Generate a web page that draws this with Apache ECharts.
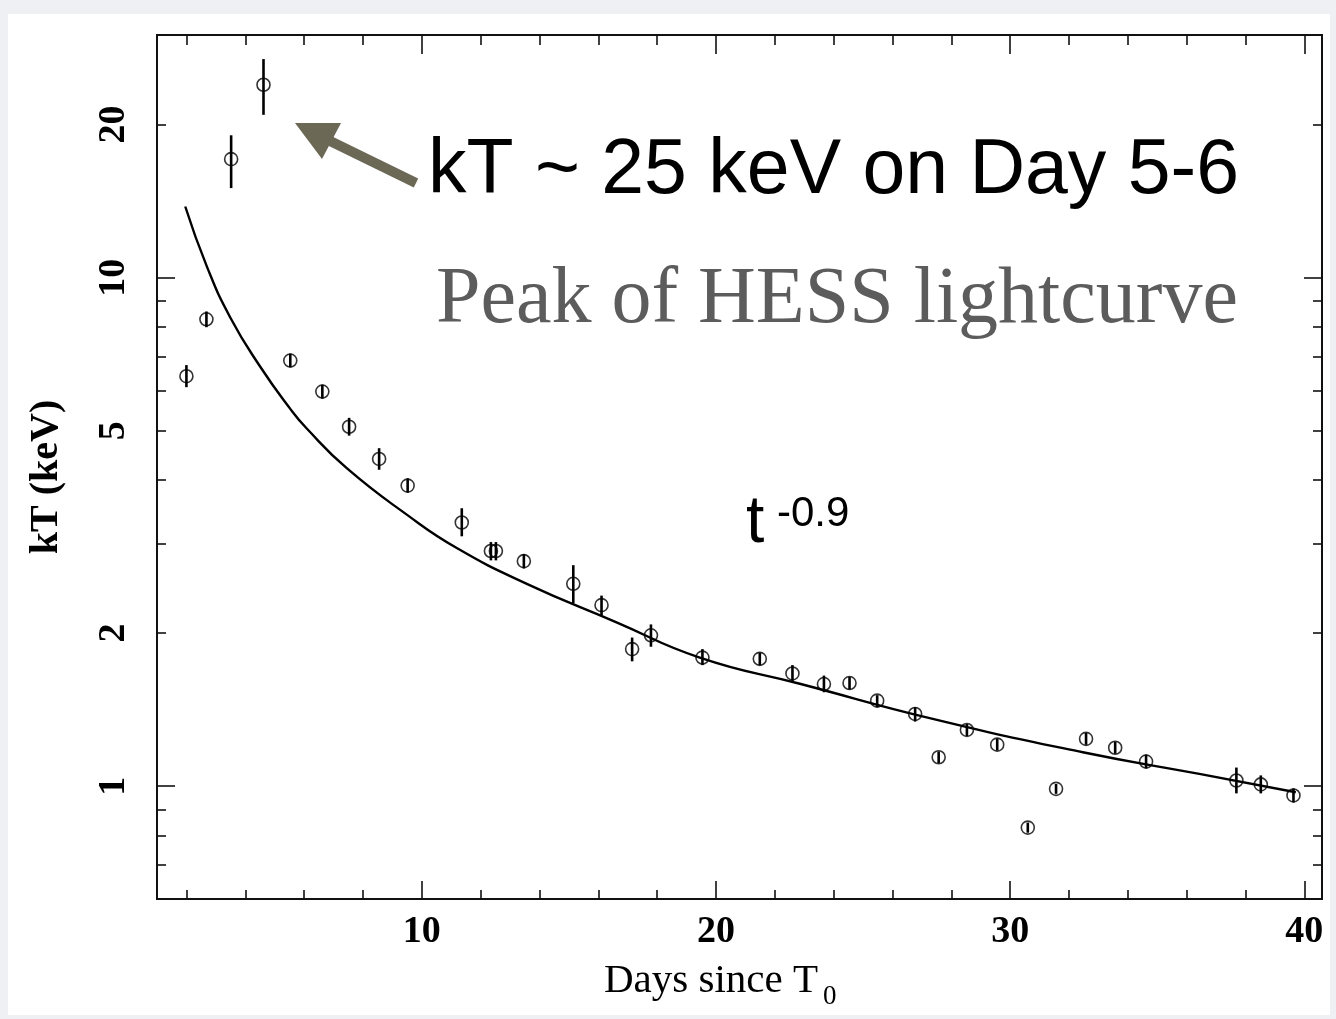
<!DOCTYPE html>
<html>
<head>
<meta charset="utf-8">
<script src="https://cdn.jsdelivr.net/npm/echarts@6/dist/echarts.min.js"></script>
<style>
  html, body { margin: 0; padding: 0; background: #eef0f3; }
  #chart { width: 1336px; height: 1019px; }
</style>
</head>
<body>
<div id="chart"></div>
<script>
// Measured temperatures (keV) with lower / upper error limits, by days since T0
const days  = [2.00, 2.68, 3.52, 4.62, 5.53, 6.62, 7.53, 8.55, 9.52, 11.36, 12.35, 12.52, 13.47, 15.15, 16.11, 17.15, 17.79, 19.54, 21.49, 22.60, 23.67, 24.54, 25.48, 26.77, 27.57, 28.53, 29.56, 30.60, 31.56, 32.58, 33.57, 34.62, 37.69, 38.52, 39.63];
const kT    = [6.40, 8.28, 17.1, 23.95, 6.87, 5.97, 5.09, 4.40, 3.90, 3.30, 2.90, 2.90, 2.77, 2.50, 2.27, 1.86, 1.98, 1.79, 1.78, 1.666, 1.588, 1.595, 1.473, 1.387, 1.14, 1.29, 1.207, 0.829, 0.988, 1.239, 1.19, 1.118, 1.026, 1.008, 0.959];
const kTlo  = [6.09, 7.99, 15.0, 20.9, 6.66, 5.78, 4.89, 4.19, 3.78, 3.10, 2.78, 2.78, 2.68, 2.29, 2.17, 1.76, 1.88, 1.73, 1.73, 1.61, 1.53, 1.55, 1.43, 1.34, 1.11, 1.255, 1.175, 0.810, 0.966, 1.206, 1.158, 1.083, 0.968, 0.968, 0.929];
const kThi  = [6.73, 8.58, 19.05, 26.9, 7.09, 6.16, 5.30, 4.62, 4.03, 3.52, 3.02, 3.02, 2.86, 2.72, 2.37, 1.96, 2.08, 1.86, 1.83, 1.73, 1.65, 1.64, 1.51, 1.43, 1.17, 1.325, 1.24, 0.848, 1.010, 1.273, 1.223, 1.154, 1.088, 1.050, 0.990];

// Power-law decay curve (t^-0.9) sampled along its drawn path
const curveDays = [1.96, 2.70, 3.49, 4.51, 5.53, 6.09, 7.45, 9.49, 11.19, 13.57, 16.62, 19.45, 22.85, 27.37, 32.47, 36.43, 39.71];
const curveKT   = [13.8, 10.5, 8.35, 6.68, 5.52, 5.05, 4.22, 3.42, 2.94, 2.50, 2.10, 1.79, 1.59, 1.356, 1.166, 1.057, 0.973];

// Axis ticks and labels
const xMajor = [10, 20, 30, 40];
const xMinor = [2, 4, 6, 8, 12, 14, 16, 18, 22, 24, 26, 28, 32, 34, 36, 38];
const yLabels = [1, 2, 5, 10, 20];
const yMajor = [1, 10];
const yMinor = [0.6, 0.7, 0.8, 0.9, 2, 3, 4, 5, 6, 7, 8, 9, 20, 30];

const X_MIN = 1.0, X_MAX = 40.6;
const Y_MIN = 0.6, Y_MAX = 30;

const lg = Math.log10;
const SERIF = 'Liberation Serif, Times New Roman, serif';
const SANS = 'Liberation Sans, Arial, Helvetica, sans-serif';
const INK = '#111';

const gridBox = { left: 157, right: 14, top: 35, bottom: 120 };

function xAx(gridIndex, position, ticks, len, labels) {
  return {
    type: 'value', gridIndex, position, min: X_MIN, max: X_MAX,
    axisLine: { show: true, onZero: false, lineStyle: { color: INK, width: 2 } },
    axisTick: { show: true, inside: true, length: len, customValues: ticks, lineStyle: { color: INK, width: 1.6 } },
    axisLabel: labels ? {
      show: true, customValues: labels, margin: 14,
      fontFamily: SERIF, fontWeight: 'bold', fontSize: 38, color: '#000'
    } : { show: false },
    splitLine: { show: false }
  };
}
function yAx(gridIndex, position, ticks, len, labels) {
  return {
    type: 'value', gridIndex, position, min: lg(Y_MIN), max: lg(Y_MAX),
    axisLine: { show: true, onZero: false, lineStyle: { color: INK, width: 2 } },
    axisTick: { show: true, inside: true, length: len, customValues: ticks.map(lg), lineStyle: { color: INK, width: 1.6 } },
    axisLabel: labels ? {
      show: true, customValues: labels.map(lg), rotate: 90, margin: 24,
      formatter: v => String(Math.round(Math.pow(10, v) * 100) / 100),
      fontFamily: SERIF, fontWeight: 'bold', fontSize: 38, color: '#000'
    } : { show: false },
    splitLine: { show: false }
  };
}

const errData = days.map((d, i) => [d, lg(kTlo[i]), lg(kThi[i])]);
const ptData = days.map((d, i) => [d, lg(kT[i])]);
const curveData = curveDays.map((d, i) => [d, lg(curveKT[i])]);

const chart = echarts.init(document.getElementById('chart'), null, { renderer: 'canvas' });
chart.setOption({
  backgroundColor: '#eef0f3',
  animation: false,
  grid: [Object.assign({}, gridBox), Object.assign({}, gridBox)],
  xAxis: [
    xAx(0, 'bottom', xMajor, 18, xMajor),
    xAx(0, 'top', xMajor, 19, null),
    xAx(1, 'bottom', xMinor, 9, null),
    xAx(1, 'top', xMinor, 10, null)
  ],
  yAxis: [
    yAx(0, 'left', yMajor, 18, yLabels),
    yAx(0, 'right', yMajor, 18, null),
    yAx(1, 'left', yMinor, 9, null),
    yAx(1, 'right', yMinor, 9, null)
  ],
  graphic: [
    { type: 'rect', z: -10, silent: true, shape: { x: 8, y: 14, width: 1322, height: 1001 }, style: { fill: '#ffffff' } },
    // annotation arrow
    { type: 'line', z: 10, shape: { x1: 416, y1: 183, x2: 326, y2: 139 }, style: { stroke: '#6c6856', lineWidth: 10 } },
    { type: 'polygon', z: 10, shape: { points: [[295, 123], [341, 123], [322, 159]] }, style: { fill: '#6c6856' } },
    { type: 'text', z: 10, x: 428, y: 172, style: { text: 'kT ~ 25 keV on Day 5-6', font: 'normal 77px ' + SANS, fill: '#000', verticalAlign: 'middle', align: 'left' } },
    { type: 'text', z: 10, x: 1238, y: 301, style: { text: 'Peak of HESS lightcurve', font: 'normal 80px ' + SERIF, fill: '#5c5c5c', verticalAlign: 'middle', align: 'right' } },
    { type: 'text', z: 10, x: 746, y: 524, style: { text: 't', font: 'normal 66px ' + SANS, fill: '#000', verticalAlign: 'middle', align: 'left' } },
    { type: 'text', z: 10, x: 777, y: 514, style: { text: '-0.9', font: 'normal 42px ' + SANS, fill: '#000', verticalAlign: 'middle', align: 'left' } },
    // axis titles
    { type: 'text', z: 10, x: 47, y: 477, rotation: Math.PI / 2, style: { text: 'kT (keV)', font: 'bold 40px ' + SERIF, fill: '#000', verticalAlign: 'middle', align: 'center' } },
    { type: 'text', z: 10, x: 604, y: 981, style: { text: 'Days since T', font: 'normal 41px ' + SERIF, fill: '#000', verticalAlign: 'middle', align: 'left' } },
    { type: 'text', z: 10, x: 823, y: 997, style: { text: '0', font: 'normal 27px ' + SERIF, fill: '#000', verticalAlign: 'middle', align: 'left' } }
  ],
  series: [
    {
      type: 'line', name: 'fit', xAxisIndex: 0, yAxisIndex: 0,
      data: curveData, smooth: true, showSymbol: false,
      lineStyle: { color: '#000', width: 2.4 }, z: 3
    },
    {
      type: 'custom', name: 'errors', xAxisIndex: 0, yAxisIndex: 0,
      data: errData,
      encode: { x: 0, y: [1, 2] },
      renderItem: (params, api) => {
        const lo = api.coord([api.value(0), api.value(1)]);
        const hi = api.coord([api.value(0), api.value(2)]);
        return {
          type: 'line',
          shape: { x1: lo[0], y1: lo[1], x2: hi[0], y2: hi[1] },
          style: { stroke: '#000', lineWidth: 2.6 }
        };
      },
      z: 4
    },
    {
      type: 'scatter', name: 'kT', xAxisIndex: 0, yAxisIndex: 0,
      data: ptData, symbol: 'circle', symbolSize: 13,
      itemStyle: { color: 'rgba(0,0,0,0)', borderColor: '#000', borderWidth: 1.6 },
      z: 5
    }
  ]
});
</script>
</body>
</html>
